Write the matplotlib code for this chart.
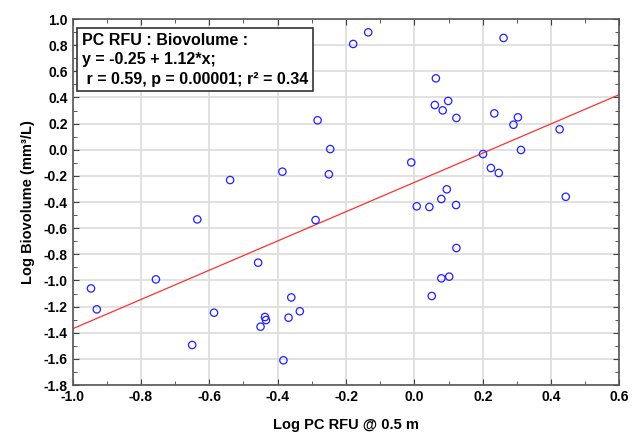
import numpy as np
import matplotlib
matplotlib.use("Agg")
import matplotlib.pyplot as plt
from matplotlib.ticker import MultipleLocator, FormatStrFormatter

plt.rcParams['font.family'] = ['Liberation Sans', 'DejaVu Sans']

# Log PC RFU @ 0.5 m vs log biovolume
log_pc = [-0.946, -0.929, -0.756, -0.635, -0.586, -0.650, -0.457, -0.450,
          -0.437, -0.434, -0.360, -0.368, -0.335, -0.383, -0.289, -0.179,
          -0.283, -0.246, -0.250, -0.386, -0.539, -0.135, 0.261, 0.063,
          0.099, 0.060, 0.083, 0.123, 0.234, 0.303, 0.290, 0.425,
          0.312, 0.201, 0.224, 0.247, -0.009, 0.095, 0.079, 0.443,
          0.007, 0.044, 0.122, 0.123, 0.079, 0.102, 0.051]
log_bio = [-1.061, -1.221, -0.992, -0.533, -1.247, -1.494, -0.864, -1.354,
           -1.280, -1.303, -1.130, -1.285, -1.236, -1.611, -0.538, 0.809,
           0.225, 0.005, -0.188, -0.168, -0.232, 0.898, 0.855, 0.546,
           0.373, 0.342, 0.301, 0.243, 0.278, 0.248, 0.191, 0.156,
           -0.002, -0.033, -0.140, -0.178, -0.097, -0.303, -0.377, -0.360,
           -0.433, -0.438, -0.423, -0.752, -0.984, -0.971, -1.119]

# fitted line as reported in the box
intercept = -0.25
slope = 1.12
stats_text = ("PC RFU : Biovolume :\ny = -0.25 + 1.12*x;\n"
              " r = 0.59, p = 0.00001; r\u00b2 = 0.34")

fig = plt.figure(figsize=(6.34, 4.38), dpi=100)
ax = fig.add_axes([0.1144, 0.121, 0.8626, 0.8356])

ax.set_xlim(-1.0, 0.6)
ax.set_ylim(-1.8, 1.0)
ax.xaxis.set_major_locator(MultipleLocator(0.2))
ax.yaxis.set_major_locator(MultipleLocator(0.2))
ax.xaxis.set_minor_locator(MultipleLocator(0.1))
ax.yaxis.set_minor_locator(MultipleLocator(0.1))
ax.xaxis.set_major_formatter(FormatStrFormatter('%.1f'))
ax.yaxis.set_major_formatter(FormatStrFormatter('%.1f'))
ax.grid(True, which='major', color='#dedede', linewidth=1.3)
ax.set_axisbelow(True)
ax.tick_params(which='both', direction='in', top=True, right=True,
               colors='#404040', labelcolor='black', labelsize=10)
ax.tick_params(which='major', length=4)
ax.tick_params(which='minor', length=3)
for lab in ax.get_xticklabels() + ax.get_yticklabels():
    lab.set_fontweight('bold')
for sp in ax.spines.values():
    sp.set_color('#555555')
    sp.set_linewidth(1.2)

xs = np.array(ax.get_xlim())
ax.plot(xs, intercept + slope * xs, color='#ff3030', linewidth=0.9)
ax.scatter(log_pc, log_bio, s=28, facecolors='none', edgecolors='#2020ff',
           linewidths=0.9, zorder=3)

ax.text(0.017, 0.963, stats_text, transform=ax.transAxes, ha='left', va='top',
        fontsize=11.5, fontweight='bold', linespacing=1.38,
        bbox=dict(boxstyle='square,pad=0.3', facecolor='white',
                  edgecolor='#333333', linewidth=1.2))

ax.set_xlabel("Log PC RFU @ 0.5 m", fontsize=10.5, fontweight='bold', labelpad=10)
ax.set_ylabel("Log Biovolume (mm\u00b3/L)", fontsize=10.5,
              fontweight='bold', labelpad=6)

fig.savefig("out.png", dpi=100)
